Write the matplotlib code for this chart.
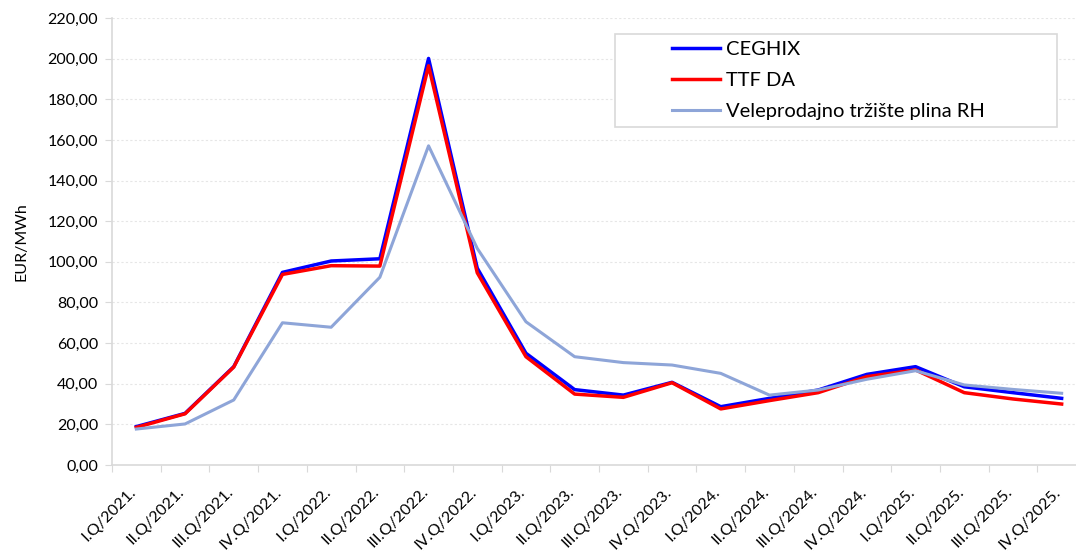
import matplotlib
matplotlib.use("Agg")
import matplotlib.pyplot as plt
from matplotlib.patches import Rectangle
from matplotlib.ticker import FuncFormatter, MultipleLocator
from matplotlib.transforms import ScaledTranslation
import numpy as np

quarters = [
    "I.Q/2021.", "II.Q/2021.", "III.Q/2021.", "IV.Q/2021.",
    "I.Q/2022.", "II.Q/2022.", "III.Q/2022.", "IV.Q/2022.",
    "I.Q/2023.", "II.Q/2023.", "III.Q/2023.", "IV.Q/2023.",
    "I.Q/2024.", "II.Q/2024.", "III.Q/2024.", "IV.Q/2024.",
    "I.Q/2025.", "II.Q/2025.", "III.Q/2025.", "IV.Q/2025.",
]
ceghix = [18.9, 25.4, 48.4, 94.8, 100.4, 101.5, 200.1, 96.9, 55.0, 37.1,
          34.4, 40.7, 28.7, 32.8, 36.9, 44.6, 48.4, 38.5, 35.6, 32.8]
ttf_da = [18.5, 25.2, 48.2, 93.8, 98.1, 97.9, 196.5, 94.6, 53.3, 34.9,
          33.3, 40.5, 27.6, 31.7, 35.6, 43.5, 46.8, 35.6, 32.5, 30.0]
rh = [17.7, 20.2, 32.0, 70.0, 67.8, 92.4, 157.1, 106.6, 70.5, 53.3,
      50.4, 49.2, 45.1, 34.4, 36.9, 42.2, 46.4, 39.4, 37.2, 35.3]

plt.rcParams["font.family"] = ["Lato", "DejaVu Sans"]

W, H = 1076, 552
fig = plt.figure(figsize=(W / 100, H / 100), dpi=100)
ax = fig.add_axes([112 / W, 87 / H, 974 / W, 447 / H])

x = np.arange(len(quarters))
ax.plot(x, ceghix, color="#0000FF", lw=2.5, label="CEGHIX", zorder=3)
ax.plot(x, ttf_da, color="#FF0000", lw=2.5, label="TTF DA", zorder=4)
ax.plot(x, rh, color="#8EA5D8", lw=2.2, label="Veleprodajno tržište plina RH", zorder=5)

ax.set_xlim(-0.5, len(quarters) - 0.5)
ax.set_ylim(0, 220)
ax.yaxis.set_major_locator(MultipleLocator(20))
ax.yaxis.set_major_formatter(FuncFormatter(lambda v, p: f"{v:.2f}".replace(".", ",")))

# category ticks between points, labels under the points
ax.set_xticks(np.arange(len(quarters) + 1) - 0.5)
ax.set_xticklabels([])
ax.set_xticks(x, minor=True)
ax.set_xticklabels(quarters, minor=True, rotation=45, ha="right", va="baseline",
                   rotation_mode="anchor", fontsize=11.5)
shift = ScaledTranslation(3 / 100, 0, fig.dpi_scale_trans)
for lbl in ax.get_xticklabels(minor=True):
    lbl.set_transform(lbl.get_transform() + shift)
ax.tick_params(axis="x", which="minor", length=0, pad=20)
ax.tick_params(axis="x", which="major", length=5, color="#d9d9d9")
ax.tick_params(axis="y", length=5, color="#d9d9d9", labelsize=11.5, pad=5)

ax.grid(axis="y", color="#e6e6e6", lw=0.8, ls=(0, (2, 2)))
ax.set_axisbelow(True)
for s in ["top", "right"]:
    ax.spines[s].set_visible(False)
for s in ["left", "bottom"]:
    ax.spines[s].set_color("#d9d9d9")
    ax.spines[s].set_linewidth(1.2)

ax.set_ylabel("EUR/MWh", fontsize=11.5, labelpad=14)

# Excel-style legend box with wide left margin
box = Rectangle((615 / W, 1 - 127 / H), 442 / W, 93 / H, transform=fig.transFigure,
                facecolor="white", edgecolor="#d9d9d9", lw=1.2, zorder=6)
ax.add_patch(box)
box.set_clip_on(False)

leg = ax.legend(loc="upper left", bbox_to_anchor=(672 / W, 1 - 41 / H),
                bbox_transform=fig.transFigure, fontsize=14.5,
                frameon=False, handlelength=2.4, handletextpad=0.3,
                borderpad=0, labelspacing=0.68, borderaxespad=0)
leg.set_zorder(7)

fig.savefig("out.png", dpi=100)
